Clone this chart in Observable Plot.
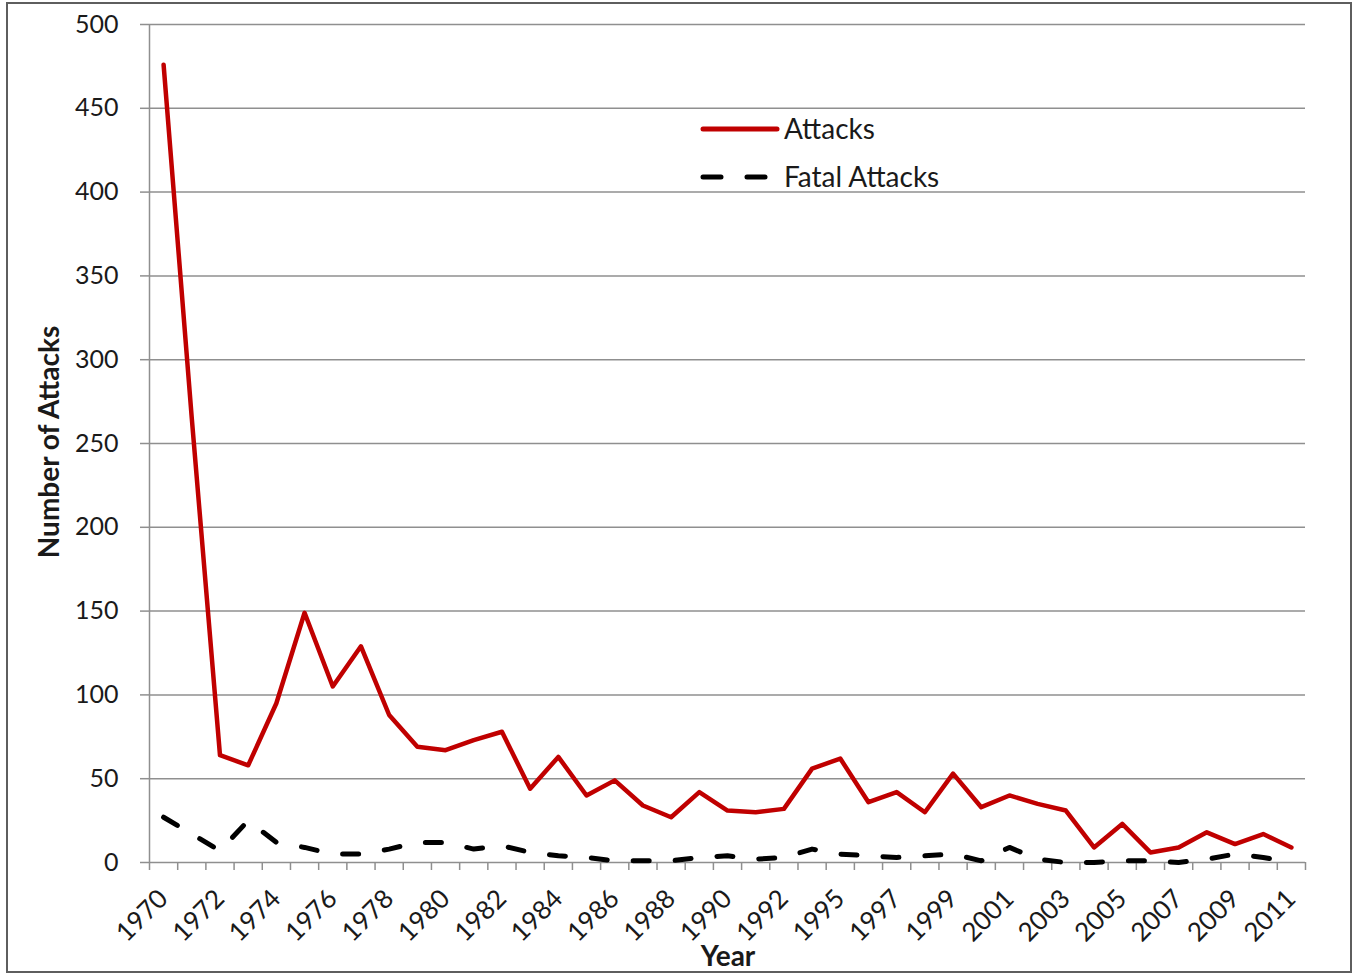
<!DOCTYPE html>
<html>
<head>
<meta charset="utf-8">
<script src="https://cdn.jsdelivr.net/npm/d3@7"></script>
<script src="https://cdn.jsdelivr.net/npm/@observablehq/plot@0.6"></script>
<style>
  body { margin: 0; background: #fff; }
  #wrap { position: relative; width: 1358px; height: 975px; font-family: Lato, "Open Sans", sans-serif; color: #1a1a1a; }
  #border { position: absolute; left: 6px; top: 2px; width: 1346px; height: 971px; border: 2px solid #5e5e5e; box-sizing: border-box; pointer-events: none; }
  #chart { position: absolute; left: 0; top: 0; }
  #legend { position: absolute; left: 0; top: 0; }
  .ytitle { position: absolute; left: 48px; top: 442px; transform: translate(-50%, -50%) rotate(-90deg); font-weight: bold; font-size: 28px; white-space: nowrap; }
  .xtitle { position: absolute; left: 728px; top: 955px; transform: translate(-50%, -50%); font-weight: bold; font-size: 28px; }
</style>
</head>
<body>
<div id="wrap">
  <div id="chart"></div>
  <svg id="legend" width="1358" height="975"></svg>
  <div class="ytitle">Number of Attacks</div>
  <div class="xtitle">Year</div>
  <div id="border"></div>
</div>
<script>
// ---- data ----
const years = [1970,1971,1972,1973,1974,1975,1976,1977,1978,1979,1980,1981,1982,1983,1984,1985,1986,1987,1988,1989,1990,1991,1992,
               1994,1995,1996,1997,1998,1999,2000,2001,2002,2003,2004,2005,2006,2007,2008,2009,2010,2011];
const attacks = [476,265,64,58,95,149,105,129,88,69,67,73,78,44,63,40,49,34,27,42,31,30,32,
                 56,62,36,42,30,53,33,40,35,31,9,23,6,9,18,11,17,9];
const fatalAttacks = [27,17,7,25,12,9,5,5,8,12,12,8,10,6,4,3,1,1,1,3,4,2,3,
                      8,5,4,3,4,5,1,9,2,0,0,1,1,0,2,5,3,0];
const xTickLabels = [1970,1972,1974,1976,1978,1980,1982,1984,1986,1988,1990,1992,1995,1997,1999,2001,2003,2005,2007,2009,2011];
const yTicks = [0,50,100,150,200,250,300,350,400,450,500];
const seriesNames = ["Attacks", "Fatal Attacks"];

const rows = [];
years.forEach((y, i) => {
  rows.push({year: y, value: attacks[i], series: seriesNames[0]});
  rows.push({year: y, value: fatalAttacks[i], series: seriesNames[1]});
});

const W = 1358, H = 975, mL = 149, mR = 53, mT = 24, mB = 113;
const step = (W - mL - mR) / years.length;
const gridColor = "#8f8f8f";
const red = "#c00000";
const font = "Lato, 'Open Sans', sans-serif";

const chart = Plot.plot({
  width: W, height: H,
  marginLeft: mL, marginRight: mR, marginTop: mT, marginBottom: mB,
  style: { fontFamily: font, color: "#1a1a1a", background: "transparent", overflow: "visible" },
  x: { type: "point", domain: years, padding: 0.5, round: false },
  y: { domain: [0, 500] },
  marks: [
    Plot.gridY(yTicks, { stroke: gridColor, strokeOpacity: 1, strokeWidth: 1.5 }),
    Plot.ruleX([years[0]], { dx: -step / 2, y1: 0, y2: 500, stroke: gridColor, strokeWidth: 1.5 }),
    Plot.axisY({ ticks: yTicks, tickSize: 9, tickPadding: 22, stroke: gridColor, strokeWidth: 1.5, fontSize: 25, label: null }),
    Plot.axisX({ ticks: years, tickSize: 8, dx: -step / 2, tickFormat: () => "", stroke: gridColor, strokeWidth: 1.5, label: null }),
    Plot.axisX({ ticks: [years[years.length - 1]], tickSize: 8, dx: step / 2, tickFormat: () => "", stroke: gridColor, strokeWidth: 1.5, label: null }),
    Plot.axisX({ ticks: xTickLabels, tickFormat: d => String(d), tickSize: 0, tickPadding: 32, tickRotate: -45, fontSize: 26, dx: 0, label: null }),
    Plot.lineY(rows.filter(d => d.series === seriesNames[1]), {
      x: "year", y: "value", stroke: "#000", strokeWidth: 5, strokeDasharray: "16,26", strokeLinecap: "round", strokeLinejoin: "round"
    }),
    Plot.lineY(rows.filter(d => d.series === seriesNames[0]), {
      x: "year", y: "value", stroke: red, strokeWidth: 4.5, strokeLinejoin: "round", strokeLinecap: "round"
    })
  ]
});
document.getElementById("chart").appendChild(chart);

// legend
const lg = d3.select("#legend");
lg.append("line").attr("x1", 703).attr("x2", 777).attr("y1", 129).attr("y2", 129)
  .attr("stroke", red).attr("stroke-width", 5).attr("stroke-linecap", "round");
lg.append("text").attr("x", 784).attr("y", 139).text(seriesNames[0])
  .attr("font-family", font).attr("font-size", 28).attr("fill", "#1a1a1a");
lg.append("line").attr("x1", 703).attr("x2", 768).attr("y1", 177).attr("y2", 177)
  .attr("stroke", "#000").attr("stroke-width", 5).attr("stroke-linecap", "round").attr("stroke-dasharray", "18,26");
lg.append("text").attr("x", 784).attr("y", 187).text(seriesNames[1])
  .attr("font-family", font).attr("font-size", 28).attr("fill", "#1a1a1a");
</script>
</body>
</html>
